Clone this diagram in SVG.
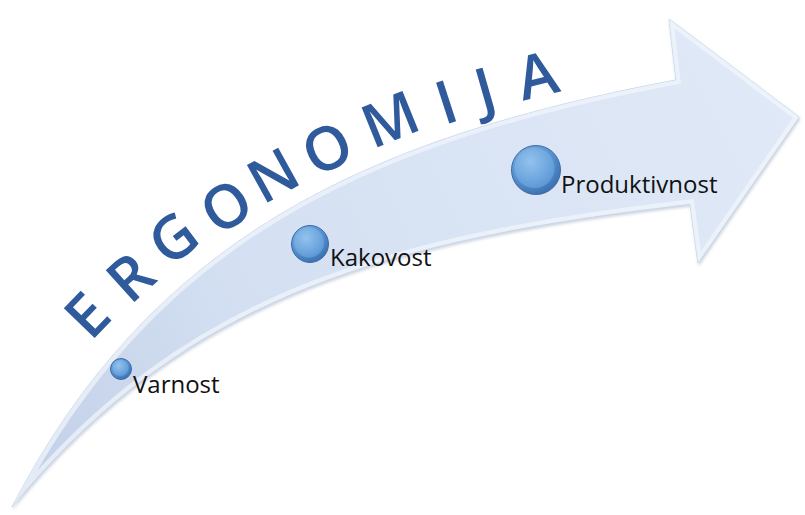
<svg xmlns="http://www.w3.org/2000/svg" width="805" height="515" viewBox="0 0 805 515">
  <defs>
    <linearGradient id="arrowFill" gradientUnits="userSpaceOnUse" x1="12" y1="507" x2="799" y2="117">
      <stop offset="0" stop-color="#c1cfe6"/>
      <stop offset="0.35" stop-color="#d4e0f2"/>
      <stop offset="1" stop-color="#e0e9f7"/>
    </linearGradient>
    <radialGradient id="sphOuter" cx="0.38" cy="0.3" r="0.8">
      <stop offset="0" stop-color="#8cbdea"/>
      <stop offset="0.55" stop-color="#5892d0"/>
      <stop offset="1" stop-color="#3466a6"/>
    </radialGradient>
    <radialGradient id="sphInner" cx="0.4" cy="0.35" r="0.7">
      <stop offset="0" stop-color="#94c4ef"/>
      <stop offset="1" stop-color="#5f9bd8"/>
    </radialGradient>
    <filter id="shadow" x="-5%" y="-5%" width="110%" height="110%">
      <feDropShadow dx="1" dy="2" stdDeviation="1.5" flood-color="#8c9db8" flood-opacity="0.45"/>
    </filter>
    <clipPath id="arrowClip">
      <path d="M12,507 C150,241 361,139 676,80 L669,19 L799,117 L698,263 L690,204 C392,239 186,294 12,507 Z"/>
    </clipPath>
    <style>
      .letter { font-family: "Open Sans", "Noto Sans", sans-serif; font-weight: 600; font-size: 60px; fill: #2f5a9c; text-anchor: middle; }
      .label { font-family: "Open Sans", "Noto Sans", sans-serif; font-size: 24px; fill: #111111; }
      .sph-out { fill: url(#sphOuter); stroke: #3d6ca8; stroke-width: 1; }
      .sph-in { fill: url(#sphInner); opacity: 0.85; }
    </style>
  </defs>

  <rect width="805" height="515" fill="#ffffff"/>

  <g id="connectors">
    <path id="arrow" d="M12,507 C150,241 361,139 676,80 L669,19 L799,117 L698,263 L690,204 C392,239 186,294 12,507 Z" fill="url(#arrowFill)" stroke="#c4d2e8" stroke-width="1" filter="url(#shadow)"/>
    <path d="M12,507 C150,241 361,139 676,80 L669,19 L799,117 L698,263 L690,204 C392,239 186,294 12,507 Z" fill="none" stroke="#f2f6fc" stroke-opacity="0.7" stroke-width="9" clip-path="url(#arrowClip)"/>
  </g>

  <g id="title">
    <text class="letter" x="87" y="336.5" transform="rotate(-46 87 315)">E</text>
    <text class="letter" x="130" y="298.5" transform="rotate(-42 130 277)">R</text>
    <text class="letter" x="173" y="259.5" transform="rotate(-37 173 238)">G</text>
    <text class="letter" x="226" y="227.5" transform="rotate(-33 226 206)">O</text>
    <text class="letter" x="273" y="196.5" transform="rotate(-29 273 175)">N</text>
    <text class="letter" x="327" y="169.5" transform="rotate(-26 327 148)">O</text>
    <text class="letter" x="390" y="140.5" transform="rotate(-22 390 119)">M</text>
    <text class="letter" x="446" y="123.5" transform="rotate(-18 446 102)">I</text>
    <text class="letter" x="485" y="110.5" transform="rotate(-16 485 89)">J</text>
    <text class="letter" x="537" y="96.5" transform="rotate(-14 537 75)">A</text>
  </g>

  <g id="node-varnost">
    <circle class="sph-out" cx="121" cy="369" r="10.5"/>
    <circle class="sph-in" cx="120.5" cy="368" r="8"/>
    <text class="label" x="133" y="393">Varnost</text>
  </g>

  <g id="node-kakovost">
    <circle class="sph-out" cx="310" cy="244" r="18.5"/>
    <circle class="sph-in" cx="309" cy="242.5" r="15"/>
    <text class="label" x="330" y="266">Kakovost</text>
  </g>

  <g id="node-produktivnost">
    <circle class="sph-out" cx="536" cy="170" r="24.5"/>
    <circle class="sph-in" cx="534.5" cy="168" r="20"/>
    <text class="label" x="561" y="193">Produktivnost</text>
  </g>
</svg>
